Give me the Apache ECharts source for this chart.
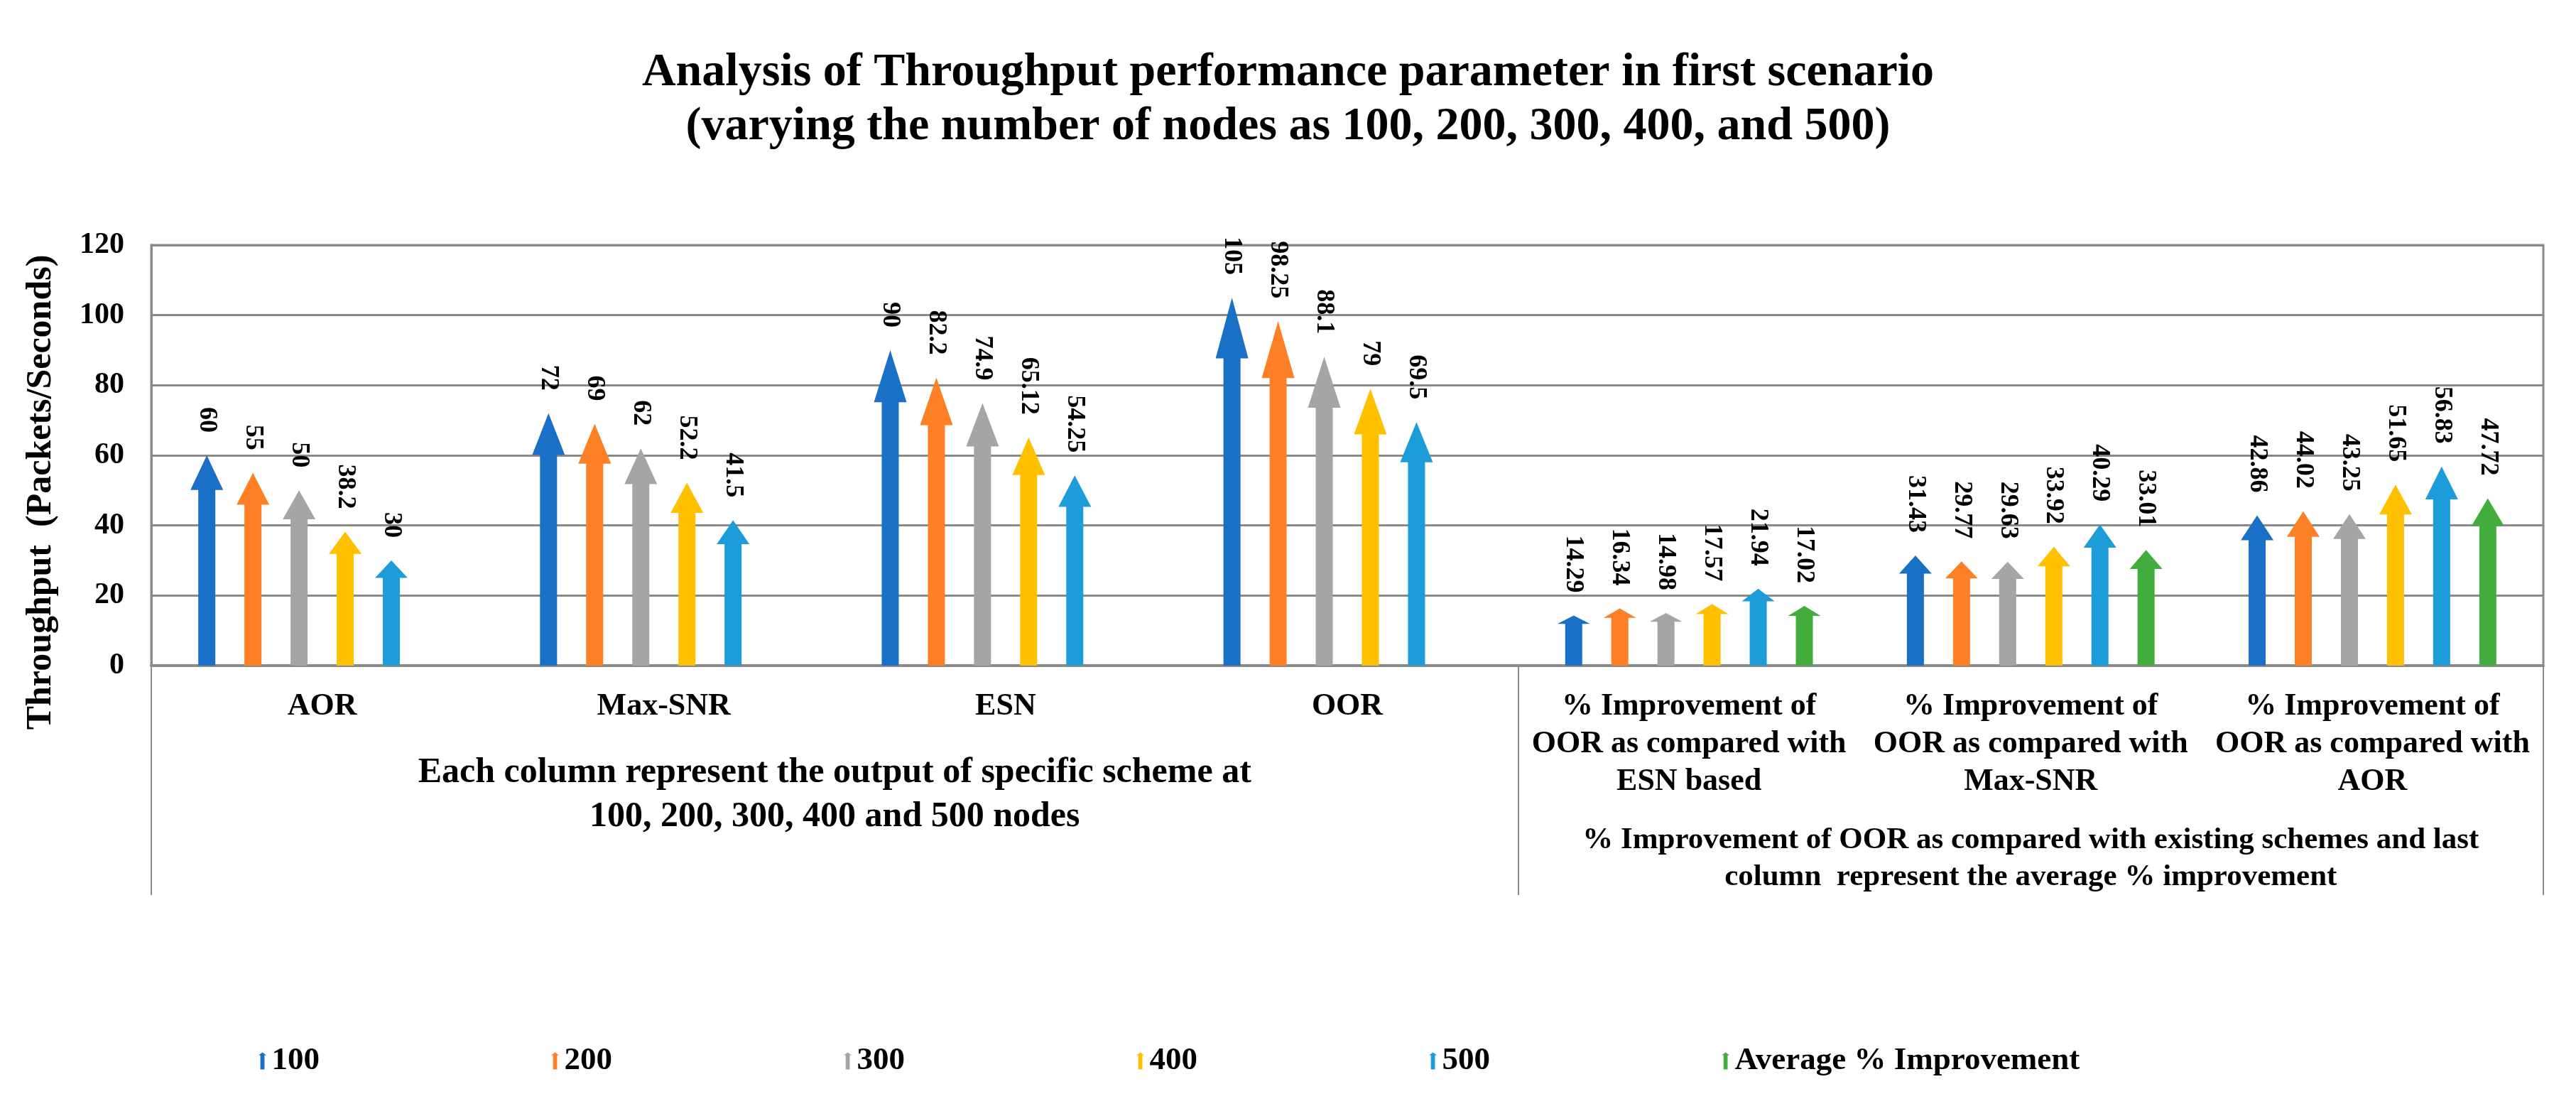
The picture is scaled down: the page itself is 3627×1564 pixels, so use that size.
<!DOCTYPE html>
<html>
<head>
<meta charset="utf-8">
<title>Throughput analysis</title>
<script src="https://cdn.jsdelivr.net/npm/echarts@6/dist/echarts.min.js"></script>
<style>
  html, body { margin: 0; padding: 0; background: #fff; }
  #chart { width: 3627px; height: 1564px; }
</style>
</head>
<body>
<div id="chart"></div>
<script>
// categories on the x axis (first four are schemes, last three are % improvement columns)
var categories = [
    'AOR', 'Max-SNR', 'ESN', 'OOR',
    '% Improvement of\nOOR as compared with\nESN based',
    '% Improvement of\nOOR as compared with\nMax-SNR',
    '% Improvement of\nOOR as compared with\nAOR'
];

var seriesNames = ['100', '200', '300', '400', '500', 'Average % Improvement'];

var nodes100 = [60, 72, 90, 105, 14.29, 31.43, 42.86];
var nodes200 = [55, 69, 82.2, 98.25, 16.34, 29.77, 44.02];
var nodes300 = [50, 62, 74.9, 88.1, 14.98, 29.63, 43.25];
var nodes400 = [38.2, 52.2, 65.12, 79, 17.57, 33.92, 51.65];
var nodes500 = [30, 41.5, 54.25, 69.5, 21.94, 40.29, 56.83];
var avgImprovement = [null, null, null, null, 17.02, 33.01, 47.72];

// group boundaries (in category units) and the group captions under the axis
var groupBounds = [0, 4, 7];
var leftGroupPos = 2;
var rightGroupPos = 5.5;
var leftGroupText = 'Each column represent the output of specific scheme at\n100, 200, 300, 400 and 500 nodes';
var rightGroupText = '% Improvement of OOR as compared with existing schemes and last\ncolumn  represent the average % improvement';

var colors = ['#1a6fc6', '#fd7f26', '#a5a5a5', '#ffc000', '#1c9dd9', '#42ad3d'];

var SERIF = '"Liberation Serif", "Times New Roman", serif';
var GRID_LINE = '#8a8a8a';

// arrow shape, stretched to the bar height
var arrow = 'path://M23,0 L46,16.5 L35,16.5 L35,100 L11,100 L11,16.5 L0,16.5 Z';

var allData = [nodes100, nodes200, nodes300, nodes400, nodes500, avgImprovement];

var chart = echarts.init(document.getElementById('chart'));

var series = allData.map(function (d, i) {
    return {
        name: seriesNames[i],
        type: 'pictorialBar',
        data: d,
        symbol: arrow,
        symbolSize: [46, '100%'],
        symbolPosition: 'start',
        barGap: '0%',
        barCategoryGap: '19%',
        itemStyle: { color: colors[i] },
        label: {
            show: true,
            position: 'top',
            distance: 32,
            rotate: -90,
            align: 'right',
            verticalAlign: 'middle',
            color: '#000',
            fontFamily: SERIF,
            fontWeight: 'bold',
            fontSize: 36
        }
    };
});

var option = {
    animation: false,
    backgroundColor: '#fff',
    color: colors,
    title: {
        text: 'Analysis of Throughput performance parameter in first scenario\n(varying the number of nodes as 100, 200, 300, 400, and 500)',
        left: 'center',
        top: 60,
        textStyle: {
            fontFamily: SERIF,
            fontWeight: 'bold',
            fontSize: 66,
            lineHeight: 76,
            color: '#000'
        }
    },
    legend: {
        left: 359,
        top: 1466,
        itemWidth: 16,
        itemHeight: 24,
        itemGap: 326,
        icon: arrow,
        data: seriesNames,
        textStyle: {
            fontFamily: SERIF,
            fontWeight: 'bold',
            fontSize: 45,
            color: '#000'
        }
    },
    grid: {
        left: 213,
        right: 46,
        top: 345,
        bottom: 627,
        show: true,
        borderColor: GRID_LINE,
        borderWidth: 3,
        outerBoundsMode: 'none'
    },
    xAxis: [
        {
            type: 'category',
            data: categories,
            position: 'bottom',
            axisLine: { lineStyle: { color: GRID_LINE, width: 4 } },
            axisTick: { show: false },
            axisLabel: {
                interval: 0,
                margin: 31,
                lineHeight: 53,
                color: '#000',
                fontFamily: SERIF,
                fontWeight: 'bold',
                fontSize: 44
            }
        },
        {
            type: 'value',
            min: 0,
            max: 7,
            position: 'bottom',
            axisLine: { show: false },
            splitLine: { show: false },
            axisTick: {
                show: true,
                customValues: groupBounds,
                length: 323,
                lineStyle: { color: GRID_LINE, width: 2 }
            },
            axisLabel: {
                customValues: [leftGroupPos],
                formatter: function () { return leftGroupText; },
                margin: 120,
                lineHeight: 62,
                color: '#000',
                fontFamily: SERIF,
                fontWeight: 'bold',
                fontSize: 50
            }
        },
        {
            type: 'value',
            min: 0,
            max: 7,
            position: 'bottom',
            axisLine: { show: false },
            splitLine: { show: false },
            axisTick: { show: false },
            axisLabel: {
                customValues: [rightGroupPos],
                formatter: function () { return rightGroupText; },
                margin: 220,
                lineHeight: 52,
                color: '#000',
                fontFamily: SERIF,
                fontWeight: 'bold',
                fontSize: 43
            }
        }
    ],
    yAxis: {
        type: 'value',
        min: 0,
        max: 120,
        interval: 20,
        axisLine: { show: true, lineStyle: { color: GRID_LINE, width: 3 } },
        axisTick: { show: false },
        splitLine: { lineStyle: { color: GRID_LINE, width: 3 } },
        axisLabel: {
            margin: 38,
            color: '#000',
            fontFamily: SERIF,
            fontWeight: 'bold',
            fontSize: 42
        }
    },
    graphic: [
        {
            type: 'text',
            x: 58,
            y: 693,
            rotation: Math.PI / 2,
            style: {
                text: 'Throughput  (Packets/Seconds)',
                font: 'bold 50px ' + SERIF,
                align: 'center',
                verticalAlign: 'middle',
                fill: '#000'
            }
        }
    ],
    series: series
};

chart.setOption(option);
</script>
</body>
</html>
